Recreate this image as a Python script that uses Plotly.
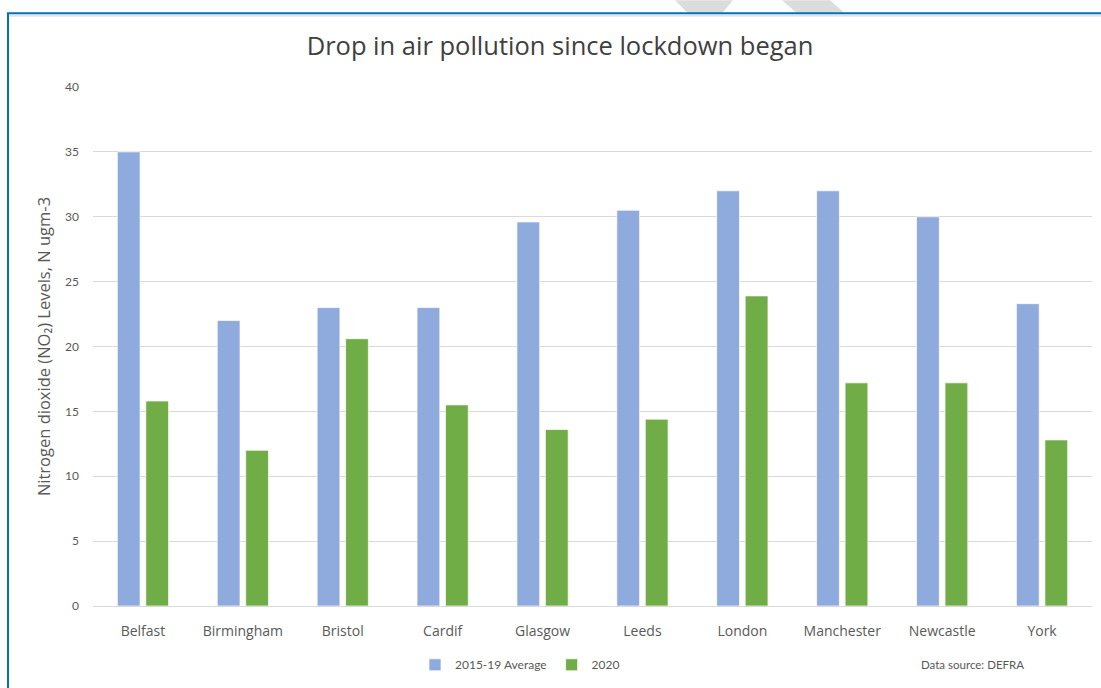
import plotly.graph_objects as go

# NO2 levels by city: long-run average vs 2020 lockdown period
cities = ["Belfast", "Birmingham", "Bristol", "Cardif", "Glasgow",
          "Leeds", "London", "Manchester", "Newcastle", "York"]
avg_2015_19 = [35.0, 22.0, 23.0, 23.0, 29.6, 30.5, 32.0, 32.0, 30.0, 23.3]
levels_2020 = [15.8, 12.0, 20.6, 15.5, 13.6, 14.4, 23.9, 17.2, 17.2, 12.8]

title_text = "Drop in air pollution since lockdown began"
y_title = "Nitrogen dioxide (NO\u2082) Levels, N ugm-3"
source_text = "Data source: DEFRA"

WIDE = "'Open Sans', Lato, sans-serif"
NARROW = "Lato, 'Open Sans', sans-serif"
GREY = "#595959"

W, H = 1101, 688
L, R, T, B = 93, 9, 87, 80
pw, ph = W - L - R, H - T - B


def px(x):
    return (x - L) / pw


def py(y):
    return (H - B - y) / ph


fig = go.Figure()
fig.add_trace(go.Bar(
    name="2015-19 Average", x=cities, y=avg_2015_19,
    marker=dict(color="#8FAADC", line=dict(color="rgba(255,255,255,0.7)", width=1)),
))
fig.add_trace(go.Bar(
    name="2020", x=cities, y=levels_2020,
    marker=dict(color="#70AD47", line=dict(color="rgba(255,255,255,0.7)", width=1)),
))

shapes = [
    # light grey wedges above the frame
    dict(type="path", xref="paper", yref="paper", layer="below",
         path=f"M {px(675)} {py(0)} L {px(733)} {py(0)} L {px(722)} {py(13)} L {px(688)} {py(13)} Z",
         fillcolor="#DCDCDC", line=dict(width=0)),
    dict(type="path", xref="paper", yref="paper", layer="below",
         path=f"M {px(782)} {py(0)} L {px(830)} {py(0)} L {px(845)} {py(13)} L {px(797)} {py(13)} Z",
         fillcolor="#DCDCDC", line=dict(width=0)),
    # soft shadow under the frame's top edge
    dict(type="line", xref="paper", yref="paper",
         x0=px(9), x1=px(1105), y0=py(15.5), y1=py(15.5),
         line=dict(color="#E3E3E3", width=2)),
    # blue frame
    dict(type="rect", xref="paper", yref="paper",
         x0=px(8), x1=px(1110), y0=py(13), y1=py(700),
         line=dict(color="#0070C0", width=2), fillcolor="rgba(0,0,0,0)"),
]

fig.update_layout(
    width=W, height=H,
    margin=dict(l=L, r=R, t=T, b=B, pad=0),
    paper_bgcolor="white", plot_bgcolor="white",
    font=dict(family=WIDE, color=GREY, size=13),
    title=dict(text=title_text, xref="container", x=560 / W, xanchor="center",
               y=1 - 46 / H, yanchor="middle",
               font=dict(family=WIDE, size=25.5, color="#404040")),
    barmode="group", bargap=0.43, bargroupgap=0.2,
    showlegend=True,
    legend=dict(orientation="h", x=px(520), xanchor="center",
                y=py(667), yanchor="middle",
                font=dict(family=NARROW, size=12, color=GREY),
                itemwidth=30, bgcolor="rgba(0,0,0,0)"),
    xaxis=dict(showgrid=False, showline=False, ticks="",
               tickfont=dict(family=WIDE, size=14, color=GREY),
               ticklabelstandoff=15),
    yaxis=dict(range=[0, 40], dtick=5, showgrid=True, gridcolor="#D9D9D9",
               gridwidth=1.3, zeroline=True, zerolinecolor="#D9D9D9",
               zerolinewidth=1.3, showline=False, ticks="",
               tickfont=dict(family=NARROW, size=12, color=GREY),
               ticklabelstandoff=13,
               title=dict(text=y_title, standoff=10,
                          font=dict(family=WIDE, size=16.5, color=GREY))),
    shapes=shapes,
    annotations=[
        dict(text=source_text, xref="paper", yref="paper",
             x=px(1026), xanchor="right", y=py(667), yanchor="middle",
             showarrow=False, font=dict(family=NARROW, size=11.5, color=GREY)),
    ],
)

fig.write_html("out.html")
